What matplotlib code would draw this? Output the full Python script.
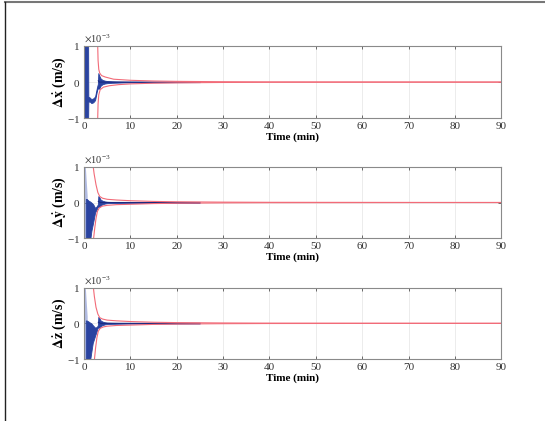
import matplotlib
matplotlib.use("Agg")
import matplotlib.pyplot as plt
import numpy as np
from matplotlib.lines import Line2D
from matplotlib.ticker import ScalarFormatter

plt.rcParams['font.family'] = ['Liberation Serif', 'DejaVu Serif']
plt.rcParams['mathtext.fontset'] = 'stix'
plt.rcParams['axes.unicode_minus'] = False

# values in units of 1e-3 m/s
# --- x velocity error
tx_band = [0, 0.9, 0.95, 1.2, 1.6, 2.0, 2.4, 2.8, 3.0, 3.1, 3.3, 3.6, 4.0, 4.5, 5.0, 6.0, 8.0, 10, 15, 20, 25]
x_hi = [1.2, 1.2, -0.40, -0.42, -0.47, -0.45, -0.40, -0.15, -0.05, 0.25, 0.18, 0.10, 0.06, 0.04, 0.03, 0.02, 0.012, 0.008, 0.005, 0.003, 0.002]
x_lo = [-1.2, -1.2, -0.55, -0.53, -0.58, -0.56, -0.50, -0.25, -0.15, -0.18, -0.18, -0.10, -0.06, -0.04, -0.03, -0.02, -0.012, -0.008, -0.005, -0.003, -0.002]
tx_up = [2.95, 3.05, 3.2, 3.4, 3.8, 4.6, 6.4, 10, 15, 20, 30, 40, 90]
x_up = [1.1, 0.6, 0.35, 0.25, 0.18, 0.14, 0.08, 0.05, 0.03, 0.02, 0.01, 0.005, 0.0]
tx_dn = [2.95, 3.05, 3.2, 3.5, 4.2, 5.5, 7.5, 10, 15, 20, 30, 40, 90]
x_dn = [-1.1, -0.6, -0.35, -0.21, -0.14, -0.10, -0.07, -0.05, -0.03, -0.02, -0.01, -0.005, 0.0]

# --- y velocity error
ty_band = [0.4, 0.6, 1.0, 1.3, 1.6, 2.0, 2.4, 2.8, 3.0, 3.1, 3.3, 3.6, 4.0, 4.5, 5.0, 6.0, 8.0, 10, 15, 20, 25]
y_hi = [0.1, 0.1, 0.05, 0.03, 0.0, -0.05, -0.15, -0.10, -0.05, 0.18, 0.15, 0.08, 0.05, 0.03, 0.02, 0.015, 0.01, 0.006, 0.004, 0.002, 0.001]
y_lo = [-1.2, -1.2, -1.2, -1.1, -0.8, -0.55, -0.28, -0.18, -0.10, -0.12, -0.12, -0.08, -0.05, -0.03, -0.02, -0.015, -0.01, -0.006, -0.004, -0.002, -0.001]
ty_up = [1.9, 2.2, 2.6, 3.0, 3.4, 4.0, 5.0, 7.0, 10, 15, 20, 30, 40, 90]
y_up = [1.1, 0.8, 0.5, 0.28, 0.17, 0.12, 0.09, 0.07, 0.05, 0.03, 0.02, 0.01, 0.005, 0.0]
ty_dn = [2.0, 2.3, 2.6, 2.9, 3.3, 4.0, 5.0, 7.0, 10, 15, 20, 30, 40, 90]
y_dn = [-1.1, -0.75, -0.45, -0.25, -0.15, -0.10, -0.08, -0.06, -0.05, -0.03, -0.02, -0.01, -0.005, 0.0]

# --- z velocity error
tz_band = [0.4, 0.6, 1.0, 1.2, 1.6, 1.9, 2.4, 2.8, 3.0, 3.1, 3.3, 3.6, 4.0, 4.5, 5.0, 6.0, 8.0, 10, 15, 20, 25]
z_hi = [0.08, 0.08, 0.05, 0.03, 0.0, -0.05, -0.12, -0.10, -0.05, 0.18, 0.15, 0.08, 0.05, 0.03, 0.02, 0.015, 0.01, 0.006, 0.004, 0.002, 0.001]
z_lo = [-1.2, -1.2, -1.2, -1.15, -0.8, -0.55, -0.35, -0.2, -0.10, -0.12, -0.12, -0.08, -0.05, -0.03, -0.02, -0.015, -0.01, -0.006, -0.004, -0.002, -0.001]
tz_up = [1.95, 2.25, 2.6, 3.0, 3.4, 4.0, 5.0, 7.0, 10, 15, 20, 30, 40, 90]
z_up = [1.1, 0.75, 0.45, 0.26, 0.16, 0.12, 0.09, 0.07, 0.05, 0.03, 0.02, 0.01, 0.005, 0.0]
tz_dn = [2.2, 2.5, 2.8, 3.1, 3.5, 4.2, 5.0, 7.0, 10, 15, 20, 30, 40, 90]
z_dn = [-1.1, -0.7, -0.4, -0.22, -0.14, -0.10, -0.08, -0.06, -0.05, -0.03, -0.02, -0.01, -0.005, 0.0]

# sparse early oscillation in y, z (light band)
t_light = [0, 0.3, 0.7]
light_hi = [1.2, 1.0, 0.2]
light_lo = [-1.2, -1.2, -1.2]

labels = [r'$\mathbf{\Delta\dot{x}}$ (m/s)', r'$\mathbf{\Delta\dot{y}}$ (m/s)', r'$\mathbf{\Delta\dot{z}}$ (m/s)']
xticks = [0, 10, 20, 30, 40, 50, 60, 70, 80, 90]

blue = '#2a43a0'
red = '#f26b78'

fig = plt.figure(figsize=(5.45, 4.21), dpi=100)
pos = [[0.154, 0.719, 0.766, 0.172],
       [0.154, 0.434, 0.766, 0.170],
       [0.154, 0.147, 0.766, 0.170]]

sets = [(tx_band, x_hi, x_lo, tx_up, x_up, tx_dn, x_dn, False),
        (ty_band, y_hi, y_lo, ty_up, y_up, ty_dn, y_dn, True),
        (tz_band, z_hi, z_lo, tz_up, z_up, tz_dn, z_dn, True)]

for i, (tb, hi, lo, tu, up, td, dn, light) in enumerate(sets):
    ax = fig.add_axes(pos[i])
    s = 1e-3
    if light:
        ax.fill_between(t_light, np.array(light_lo) * s, np.array(light_hi) * s,
                        color='#7d8fd0', alpha=0.6, lw=0)
    ax.fill_between(tb, np.array(lo) * s, np.array(hi) * s, color=blue, lw=0.6, edgecolor=blue)
    ax.plot(tb[9:], (np.array(hi[9:]) + np.array(lo[9:])) / 2 * s, color='#1a2a80', lw=0.8)
    ax.plot(tu, np.array(up) * s, color=red, lw=0.8)
    ax.plot(td, np.array(dn) * s, color=red, lw=0.8)
    ax.set_xlim(0, 90)
    ax.set_ylim(-1e-3, 1e-3)
    ax.set_xticks(xticks)
    ax.set_yticks([-1e-3, 0, 1e-3])
    fmt = ScalarFormatter(useMathText=True)
    fmt.set_powerlimits((0, 0))
    ax.yaxis.set_major_formatter(fmt)
    ax.yaxis.get_offset_text().set_fontsize(7.5)
    ax.tick_params(direction='in', top=True, right=True, labelsize=8,
                   length=2.5, width=0.5, colors='#333333', pad=3)
    ax.grid(True, color='#e4e4e4', lw=0.5)
    ax.set_axisbelow(True)
    for sp in ax.spines.values():
        sp.set_color('#8a8a8a')
        sp.set_linewidth(0.8)
    ax.set_xlabel('Time (min)', fontsize=8, fontweight='bold', labelpad=1)
    ax.set_ylabel(labels[i], fontsize=10, fontweight='bold', labelpad=-1)

# frame around the picture
fig.add_artist(Line2D([0.009, 1.0], [0.995, 0.995], color='#777777', lw=1.5))
fig.add_artist(Line2D([0.009, 0.009], [0.0, 0.995], color='#222222', lw=1.0))

fig.savefig('out.png', dpi=100)
